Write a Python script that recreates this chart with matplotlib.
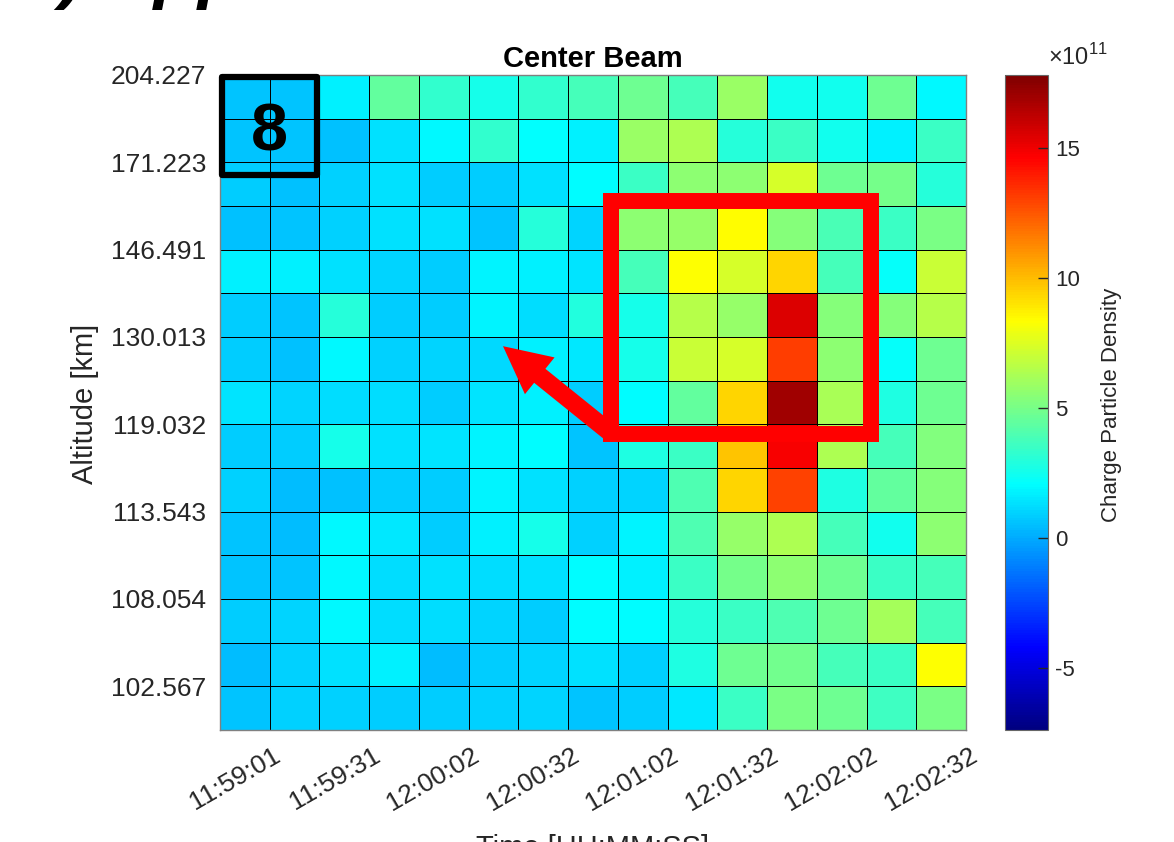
import numpy as np
import matplotlib
matplotlib.use('Agg')
import matplotlib.pyplot as plt
from matplotlib.colors import ListedColormap
from matplotlib.patches import Rectangle
from matplotlib.transforms import ScaledTranslation

plt.rcParams['font.family'] = ['Liberation Sans', 'DejaVu Sans']
plt.rcParams['mathtext.fontset'] = 'custom'
plt.rcParams['mathtext.rm'] = 'Liberation Sans'

# ---------------- data (units of 1e11) ----------------
row_00 = [0.66, 0.66, 1.67, 4.5, 3.3, 2.6, 3.3, 3.8, 4.8, 3.8, 5.8, 2.5, 2.5, 4.8, 1.9]
row_01 = [0.66, 0.6, 0.5, 1.3, 1.9, 3.3, 2.1, 1.75, 5.8, 6.3, 3.0, 3.5, 2.5, 1.7, 3.5]
row_02 = [0.8, 0.5, 0.9, 1.3, 0.8, 0.8, 1.3, 2.0, 3.5, 5.5, 5.5, 7.3, 4.8, 5.0, 3.0]
row_03 = [0.5, 0.66, 0.9, 1.3, 1.3, 0.6, 3.0, 1.0, 5.5, 5.75, 8.4, 5.3, 3.9, 3.5, 5.1]
row_04 = [1.67, 1.67, 1.3, 1.0, 0.8, 1.8, 1.67, 1.4, 3.8, 8.35, 7.3, 9.4, 3.8, 2.2, 7.0]
row_05 = [0.8, 0.66, 3.0, 0.8, 0.8, 1.8, 1.2, 2.9, 2.6, 6.5, 5.75, 15.5, 5.3, 5.3, 6.5]
row_06 = [0.8, 0.55, 1.9, 0.9, 1.0, 1.1, 1.67, 1.5, 2.6, 7.0, 7.35, 13.1, 5.5, 2.2, 4.8]
row_07 = [1.4, 1.0, 1.2, 1.2, 0.8, 1.4, 1.67, 0.8, 2.05, 4.5, 9.4, 17.0, 6.25, 2.8, 4.8]
row_08 = [0.8, 0.8, 2.6, 1.3, 1.4, 1.8, 2.05, 0.66, 2.8, 3.5, 9.8, 14.8, 6.3, 3.8, 5.2]
row_09 = [0.9, 0.45, 0.55, 0.8, 0.8, 1.8, 1.3, 0.9, 1.0, 4.0, 9.4, 13.0, 2.8, 4.5, 5.3]
row_10 = [0.66, 0.45, 1.9, 1.55, 0.8, 1.67, 2.6, 0.9, 1.8, 4.0, 5.75, 6.3, 3.8, 2.5, 5.5]
row_11 = [0.66, 0.66, 1.9, 1.2, 1.3, 1.2, 1.3, 2.05, 1.67, 3.5, 5.0, 5.5, 4.8, 3.5, 3.8]
row_12 = [0.8, 1.0, 1.9, 1.2, 1.2, 1.0, 0.8, 2.05, 2.05, 3.0, 3.5, 4.0, 4.8, 6.1, 3.8]
row_13 = [0.45, 0.9, 1.3, 1.67, 0.45, 0.8, 1.0, 1.3, 0.9, 2.8, 4.8, 4.9, 3.8, 3.5, 8.35]
row_14 = [0.66, 0.9, 0.9, 0.8, 0.8, 0.9, 1.0, 0.66, 0.8, 1.55, 3.5, 5.1, 4.8, 3.6, 5.1]

time_labels = ['11:59:01', '11:59:31', '12:00:02', '12:00:32',
               '12:01:02', '12:01:32', '12:02:02', '12:02:32']
altitude_labels = ['204.227', '171.223', '146.491', '130.013',
                   '119.032', '113.543', '108.054', '102.567']
cbar_ticks = [-5, 0, 5, 10, 15]
clim = (-7.4, 17.8)

Z = np.array([row_00, row_01, row_02, row_03, row_04, row_05, row_06, row_07,
              row_08, row_09, row_10, row_11, row_12, row_13, row_14])
nrows, ncols = Z.shape

# MATLAB-style jet colormap
xs = np.linspace(0, 1, 256)
r = np.clip(np.minimum(4 * xs - 1.5, -4 * xs + 4.5), 0, 1)
g = np.clip(np.minimum(4 * xs - 0.5, -4 * xs + 3.5), 0, 1)
b = np.clip(np.minimum(4 * xs + 0.5, -4 * xs + 2.5), 0, 1)
mjet = ListedColormap(np.column_stack([r, g, b]))

W, H = 1174, 842
fig = plt.figure(figsize=(W / 100, H / 100), dpi=100)


def fx(px):
    return px / W


def fy(py):
    return 1 - py / H


ax = fig.add_axes([fx(220), fy(730), (966 - 220) / W, (730 - 75) / H])
mesh = ax.pcolormesh(np.arange(ncols + 1), np.arange(nrows + 1), Z, cmap=mjet,
                     vmin=clim[0], vmax=clim[1], edgecolors='k', linewidth=0.6)
ax.set_xlim(0, ncols)
ax.set_ylim(nrows, 0)

ax.set_xticks(np.arange(1, ncols + 1, 2))
ax.set_xticklabels(time_labels, rotation=30, ha='right', va='center',
                   rotation_mode='anchor')
ax.set_yticks(np.arange(0, nrows, 2))
ax.set_yticklabels(altitude_labels)
ax.tick_params(axis='both', length=0, labelsize=19, colors='0.15')
ax.tick_params(axis='x', pad=17)
ax.tick_params(axis='y', pad=10)
shift = ScaledTranslation(9 / 100, 0, fig.dpi_scale_trans)
for lab in ax.get_xticklabels():
    lab.set_transform(lab.get_transform() + shift)
for s in ax.spines.values():
    s.set_color('0.5')
    s.set_linewidth(1.0)

ax.set_title('Center Beam', fontsize=21, fontweight='bold', pad=6)

fig.text(fx(85), fy(404), 'Altitude [km]', rotation=90, ha='center',
         va='center', fontsize=21, color='0.15')
fig.text(fx(593), fy(834), 'Time [HH:MM:SS]', ha='center', va='top',
         fontsize=21, color='0.15')

# colorbar
cax = fig.add_axes([fx(1005), fy(730), 43 / W, 655 / H])
cb = fig.colorbar(mesh, cax=cax)
cb.set_ticks(cbar_ticks)
cb.set_ticklabels([str(t) for t in cbar_ticks])
cax.tick_params(direction='in', length=7, width=1, labelsize=16,
                colors='0.15', pad=5)
cb.outline.set_edgecolor('0.4')
fig.text(fx(1048), fy(65), r'$\times\mathregular{10}^{\mathregular{11}}$',
         fontsize=17, color='0.15', va='baseline', ha='left')
fig.text(fx(1112), fy(405), 'Charge Particle Density', rotation=90,
         ha='center', va='center', fontsize=16, color='0.15')

# annotations
ax.add_patch(Rectangle((0.04, 0.046), 1.91, 2.24, fill=False, ec='black',
                       lw=4.5, joinstyle='round', clip_on=False, zorder=5))
ax.text(0.99, 1.72, '8', fontsize=48, fontweight='bold', ha='center',
        va='baseline', zorder=6)
ax.add_patch(Rectangle((7.86, 2.885), 5.22, 5.335, fill=False, ec='red',
                       lw=11.5, joinstyle='miter', clip_on=False, zorder=5))
ax.annotate('', xy=(5.69, 6.21), xytext=(7.88, 8.22),
            arrowprops=dict(arrowstyle='simple,head_length=1.0,head_width=1.0,tail_width=0.38',
                            mutation_scale=34, fc='red', ec='red', lw=0,
                            shrinkA=0, shrinkB=0), zorder=6)

# cut-off panel caption at the top edge
fig.text(fx(20), (H + 5) / H, 'a) Application', fontsize=52,
         fontweight='bold', style='italic', va='baseline', ha='left')

fig.savefig('out.png', dpi=100)
